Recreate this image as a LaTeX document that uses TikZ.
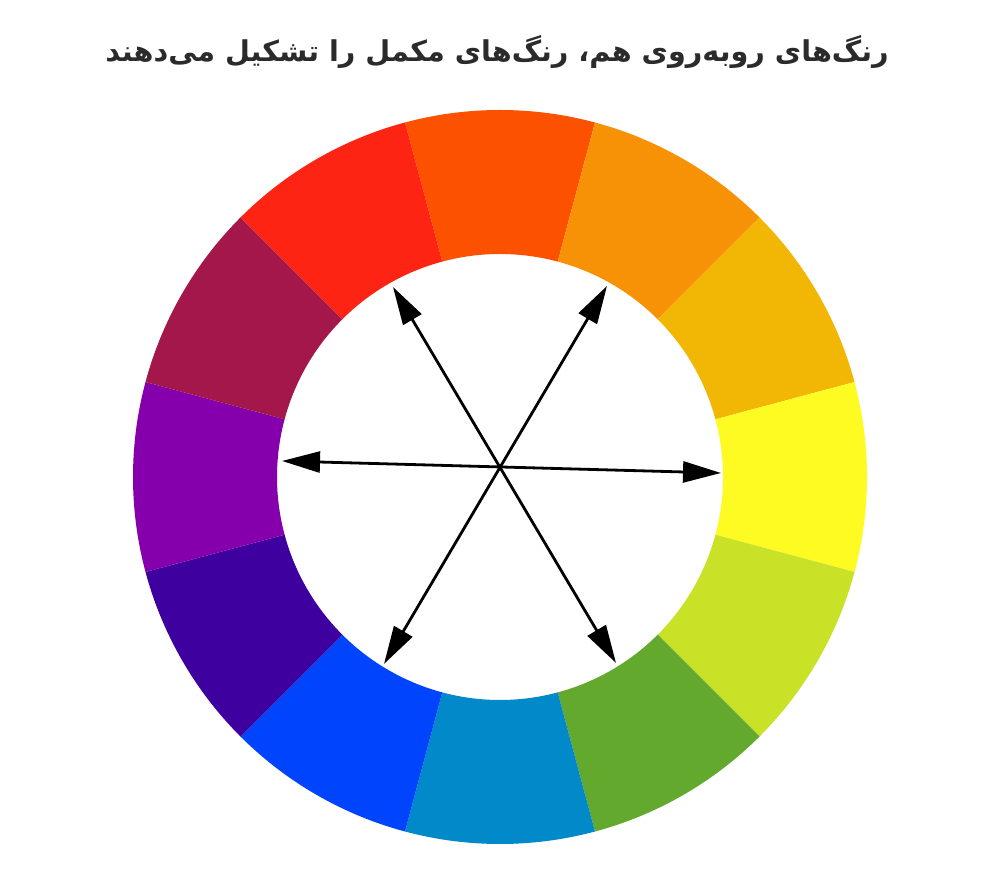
\documentclass[tikz,border=0pt]{standalone}
\usepackage{fontspec}
\TeXXeTstate=1
\newfontfamily\arabicfont[Script=Arabic]{DejaVu Sans}
\usetikzlibrary{arrows.meta}
\definecolor{cA}{HTML}{FC5200}
\definecolor{cB}{HTML}{F79106}
\definecolor{cC}{HTML}{F2B705}
\definecolor{cD}{HTML}{FEFB22}
\definecolor{cE}{HTML}{C9E127}
\definecolor{cF}{HTML}{63A92E}
\definecolor{cG}{HTML}{0189C9}
\definecolor{cH}{HTML}{0044FE}
\definecolor{cI}{HTML}{3E009E}
\definecolor{cJ}{HTML}{8500AC}
\definecolor{cK}{HTML}{A3174A}
\definecolor{cL}{HTML}{FD2413}
\definecolor{titlegray}{HTML}{2B2B2B}
\tikzset{
  arr/.style={line width=2.8pt, black, {Triangle[length=38pt,width=21pt]}-{Triangle[length=38pt,width=21pt]}},
  titletext/.style={font=\arabicfont\bfseries\fontsize{28.7pt}{34pt}\selectfont, text=titlegray, inner sep=0pt}
}
\begin{document}
\begin{tikzpicture}[x=1pt,y=1pt]
\useasboundingbox (0,0) rectangle (1000,890);
\fill[white] (0,0) rectangle (1000,890);
\coordinate (c) at (500,413);
\foreach \a/\col in {90/cA,60/cB,30/cC,0/cD,-30/cE,-60/cF,-90/cG,-120/cH,-150/cI,180/cJ,150/cK,120/cL}{
  \fill[\col, shift={(500pt,413pt)}] (\a-15:367pt) arc[start angle=\a-15, end angle=\a+15, radius=367pt]
     -- (\a+15:223pt) arc[start angle=\a+15, end angle=\a-15, radius=223pt] -- cycle;
}
\coordinate (l) at (282,429);
\coordinate (r) at (721,417);
\coordinate (ul) at (393,603);
\coordinate (lr) at (616,227);
\coordinate (ur) at (607,604);
\coordinate (ll) at (384,226);
\draw[arr] (l) -- (r);
\draw[arr] (ul) -- (lr);
\draw[arr] (ur) -- (ll);
\node[titletext] (title) at (497,838) {\beginR رنگ‌های روبه‌روی هم، رنگ‌های مکمل را تشکیل می‌دهند\endR};
\end{tikzpicture}
\end{document}
